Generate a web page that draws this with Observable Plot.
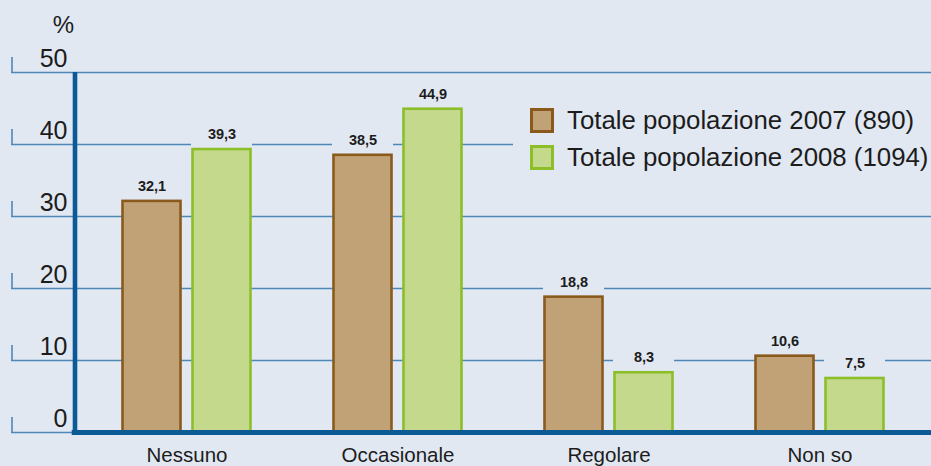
<!DOCTYPE html>
<html><head><meta charset="utf-8">
<script src="https://cdn.jsdelivr.net/npm/d3@7"></script>
<script src="https://cdn.jsdelivr.net/npm/@observablehq/plot@0.6"></script>
<style>
html,body{margin:0;padding:0;background:#e1e8f2;}
#chart{position:relative;width:931px;height:466px;overflow:hidden;font-family:"Liberation Sans",Arial,sans-serif;color:#1c1c1c;}
#legend{position:absolute;left:513px;top:88px;width:418px;height:112px;background:#e1e8f2;}
.sw{position:absolute;left:17px;width:24px;height:25px;box-sizing:border-box;border:3px solid;}
.lt{position:absolute;left:54px;font-size:25.8px;line-height:26px;white-space:nowrap;}
</style></head><body><div id="chart"></div>
<script>
const categories = ["Nessuno", "Occasionale", "Regolare", "Non so"];
const values2007 = [32.1, 38.5, 18.8, 10.6];
const values2008 = [39.3, 44.9, 8.3, 7.5];
const seriesLabels = ["Totale popolazione 2007 (890)", "Totale popolazione 2008 (1094)"];
const yTicks = [0, 10, 20, 30, 40, 50];
const yUnit = "%";

const fill2007 = "#c1a176", stroke2007 = "#8a5a1c";
const fill2008 = "#c4d98b", stroke2008 = "#8cbe2a";
const bg = "#e1e8f2", gridColor = "#4e88b9", axisColor = "#0b5a95", textColor = "#1c1c1c";

const fmt = v => v.toFixed(1).replace(".", ",");
const rows2007 = categories.map((c, i) => ({cat: c, v: values2007[i], label: fmt(values2007[i])}));
const rows2008 = categories.map((c, i) => ({cat: c, v: values2008[i], label: fmt(values2008[i])}));

const W = 931, H = 466, mL = 74, mT = 72, mB = 34;
const bandStart = 80.5, bandEnd = 924.5;
const firstCenter = bandStart + (bandEnd - bandStart) / categories.length / 2;

const chart = Plot.plot({
  width: W, height: H,
  marginLeft: mL, marginRight: 0, marginTop: mT, marginBottom: mB,
  style: {background: bg, fontFamily: '"Liberation Sans", Arial, sans-serif', overflow: "visible", color: textColor},
  x: {type: "band", domain: categories, range: [bandStart, bandEnd], padding: 0, axis: null},
  y: {domain: [0, 50], axis: null},
  marks: [
    // gridlines extending left past axis
    Plot.ruleY(yTicks, {y: d => d, stroke: gridColor, strokeWidth: 1.6, insetLeft: -(mL - 11)}),
    // little vertical ticks at the left end of the gridlines
    Plot.ruleX(yTicks, {x: () => categories[0], y1: d => d, y2: d => d + 2.1, dx: 11 - firstCenter, stroke: gridColor, strokeWidth: 1.6}),
    // knock-out panels above the bars
    Plot.barY(rows2007, {x: "cat", y1: "v", y2: d => d.v + 3.8, fill: bg, insetLeft: 40, insetRight: 110}),
    Plot.barY(rows2008, {x: "cat", y1: "v", y2: d => d.v + 3.8, fill: bg, insetLeft: 110, insetRight: 40}),
    // bars
    Plot.barY(rows2007, {x: "cat", y: "v", fill: fill2007, stroke: stroke2007, strokeWidth: 2.6, insetLeft: 41.5, insetRight: 111.5}),
    Plot.barY(rows2008, {x: "cat", y: "v", fill: fill2008, stroke: stroke2008, strokeWidth: 2.6, insetLeft: 111.5, insetRight: 41.5}),
    // value labels
    Plot.text(rows2007, {x: "cat", y: "v", text: "label", dx: -35, dy: -15, fontSize: 14.5, fontWeight: "bold", fill: textColor}),
    Plot.text(rows2008, {x: "cat", y: "v", text: "label", dx: 35, dy: -15, fontSize: 14.5, fontWeight: "bold", fill: textColor}),
    // axes lines
    Plot.ruleX([0], {x: () => categories[0], y1: 0, y2: 50, dx: mL - firstCenter, stroke: axisColor, strokeWidth: 4.6}),
    Plot.ruleY([0], {stroke: axisColor, strokeWidth: 5, insetLeft: -2.3}),
    // y tick labels
    Plot.text(yTicks, {y: d => d, text: d => String(d), frameAnchor: "left", textAnchor: "end", lineAnchor: "middle", dx: -7, dy: -14, fontSize: 25, fill: textColor}),
    Plot.text([yUnit], {text: d => d, frameAnchor: "top-left", textAnchor: "middle", lineAnchor: "middle", dx: -11, dy: -47, fontSize: 24, fill: textColor}),
    // category labels
    Plot.text(categories, {x: d => d, text: d => d, frameAnchor: "bottom", lineAnchor: "middle", dy: 23, fontSize: 20.5, fill: textColor})
  ]
});
const root = document.getElementById("chart");
root.appendChild(chart);

const legend = document.createElement("div");
legend.id = "legend";
const fills = [[fill2007, stroke2007], [fill2008, stroke2008]];
seriesLabels.forEach((t, i) => {
  const sw = document.createElement("div");
  sw.className = "sw";
  sw.style.top = (20 + 37 * i) + "px";
  sw.style.background = fills[i][0];
  sw.style.borderColor = fills[i][1];
  const lt = document.createElement("div");
  lt.className = "lt";
  lt.style.top = (19 + 37 * i) + "px";
  lt.textContent = t;
  legend.appendChild(sw);
  legend.appendChild(lt);
});
root.appendChild(legend);
</script></body></html>
